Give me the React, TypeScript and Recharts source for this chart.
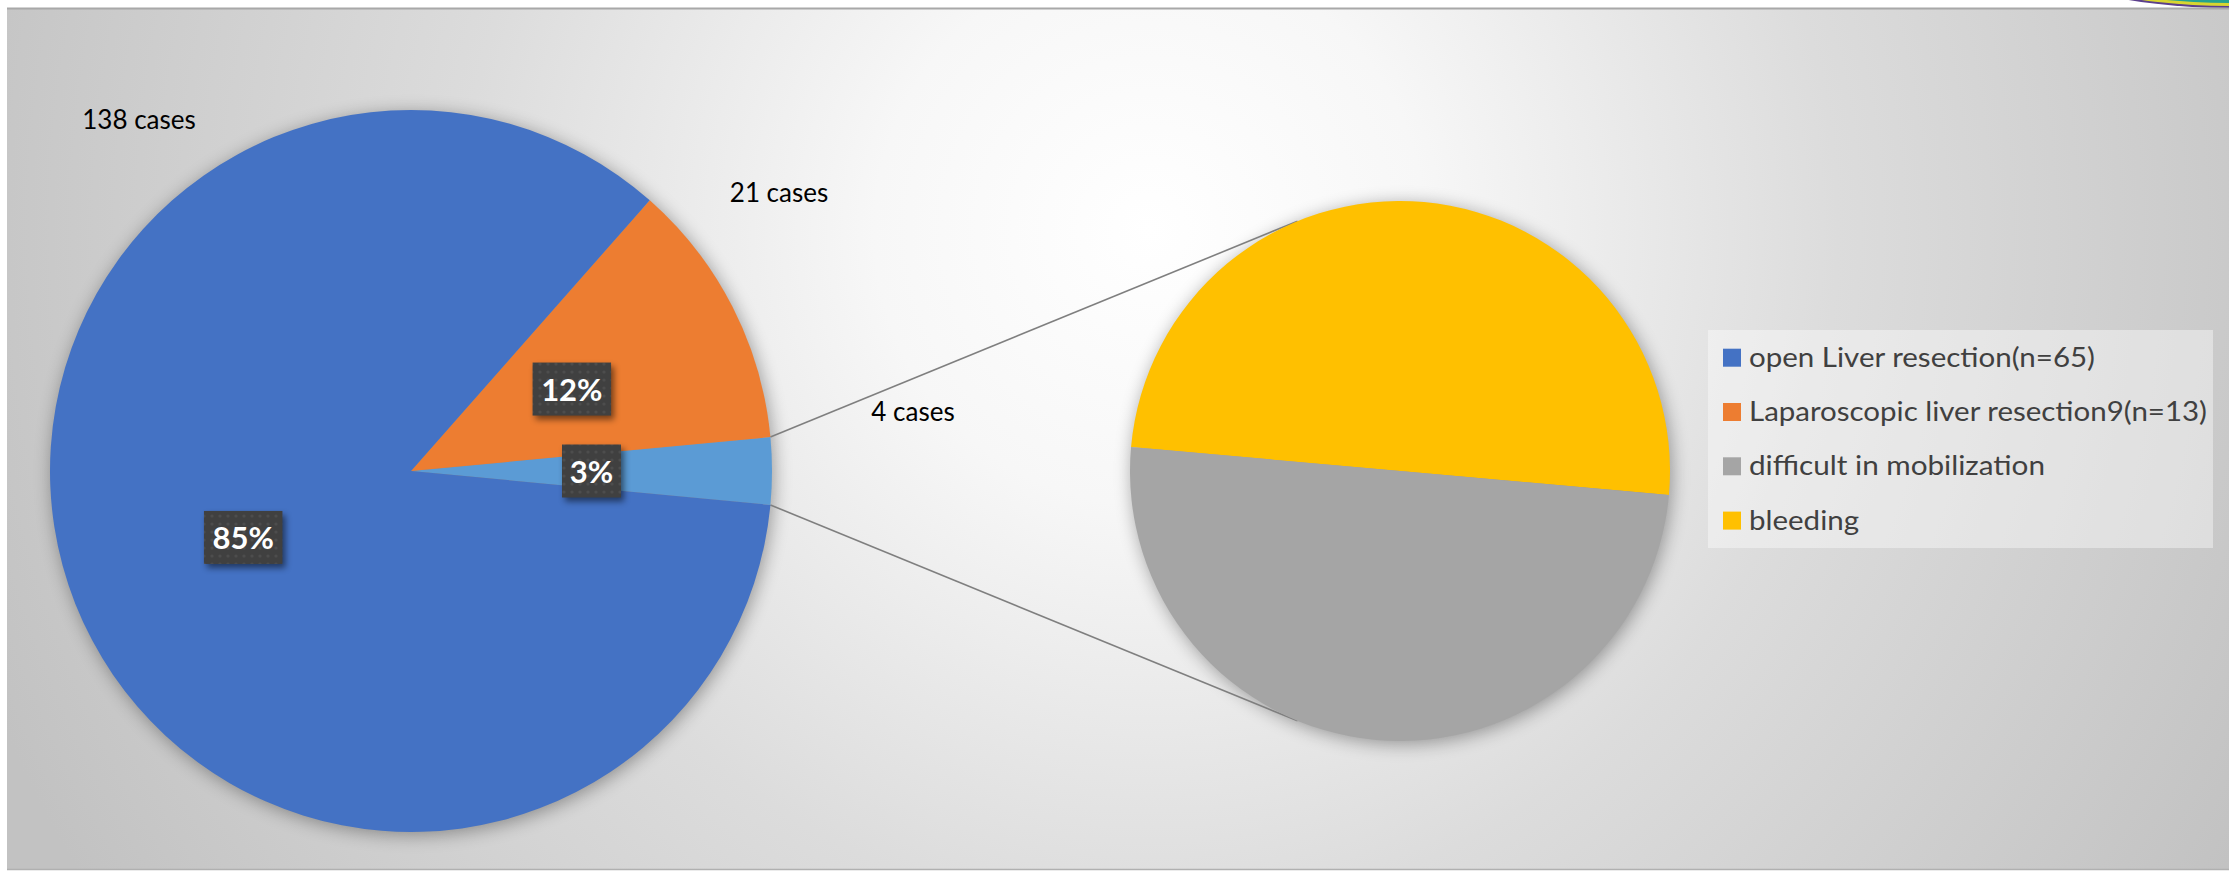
import React from 'react';
import { PieChart, Pie, Cell, Legend } from 'recharts';

// ---- data ----
const mainCategories = ['other (see right pie)', 'Laparoscopic liver resection', 'open Liver resection'];
const mainPercents = [3, 12, 85];
const mainCaseCounts = [4, 21, 138];
const mainColors = ['#5B9BD5', '#ED7D31', '#4472C4'];

const secondCategories = ['bleeding', 'difficult in mobilization'];
const secondValues = [2, 2];
const secondColors = ['#FFC000', '#A5A5A5'];

const legendLabels = [
  'open Liver resection(n=65)',
  'Laparoscopic liver resection9(n=13)',
  'difficult in mobilization',
  'bleeding',
];
const legendColors = ['#4472C4', '#ED7D31', '#A5A5A5', '#FFC000'];

// ---- layout ----
const W = 2229;
const H = 872;
const MAIN_CX = 411;
const MAIN_CY = 471;
const MAIN_R = 361;
const SEC_CX = 1400;
const SEC_CY = 471;
const SEC_R = 270;
const SEC_START = -5.1;
const CONNECT_ANGLE = 112.3;
const caseLabelOffsets: [number, number][] = [
  [502, -50],
  [368, -269],
  [-272, -342],
];
const legendTextWidths = [346, 458, 296, 110];

const mainData = mainCategories.map((name, i) => ({ name, value: mainPercents[i] }));
const secondData = secondCategories.map((name, i) => ({ name, value: secondValues[i] }));
const mainTotal = mainPercents.reduce((a, b) => a + b, 0);
const mainStart = -((mainPercents[0] / mainTotal) * 360) / 2;

const RAD = Math.PI / 180;

const renderMainLabel = (props: any) => {
  const { cx, cy, midAngle, outerRadius, index } = props;
  const r = outerRadius * 0.5;
  const x = cx + r * Math.cos(-midAngle * RAD);
  const y = cy + r * Math.sin(-midAngle * RAD);
  const txt = `${mainPercents[index]}%`;
  const w = 20 + txt.length * 19.5;
  const h = 53;
  const [odx, ody] = caseLabelOffsets[index];
  return (
    <g key={`lbl-${index}`}>
      <rect x={x - w / 2 + 3} y={y - h / 2 + 4} width={w} height={h} fill="#000" opacity={0.5} filter="url(#lblShadow)" />
      <rect x={x - w / 2} y={y - h / 2} width={w} height={h} fill="url(#dotPattern)" />
      <text x={x} y={y + 12} textAnchor="middle" fill="#ffffff" fontFamily="Lato" fontWeight={700} fontSize={31}>
        {txt}
      </text>
      <text x={cx + odx} y={cy + ody} textAnchor="middle" fill="#000000" fontFamily="Lato" fontSize={26}>
        {`${mainCaseCounts[index]} cases`}
      </text>
    </g>
  );
};

const LegendBox = () => (
  <svg width={505} height={218} style={{ display: 'block' }}>
    <rect x={0} y={0} width={505} height={218} fill="#ffffff" fillOpacity={0.4} />
    {legendLabels.map((label, i) => (
      <g key={label}>
        <rect x={15} y={18.7 + i * 54.3} width={18} height={18} fill={legendColors[i]} />
        <text
          x={41}
          y={36.7 + i * 54.3}
          fontFamily="Lato"
          fontSize={26}
          fill="#404040"
          textLength={legendTextWidths[i]}
          lengthAdjust="spacingAndGlyphs"
        >
          {label}
        </text>
      </g>
    ))}
  </svg>
);

const pt = (cx: number, cy: number, r: number, a: number) => [cx + r * Math.cos(-a * RAD), cy + r * Math.sin(-a * RAD)];

export default function App() {
  const halfMain = -mainStart;
  const [m1x, m1y] = pt(MAIN_CX, MAIN_CY, MAIN_R, halfMain);
  const [m2x, m2y] = pt(MAIN_CX, MAIN_CY, MAIN_R, -halfMain);
  const [s1x, s1y] = pt(SEC_CX, SEC_CY, SEC_R, CONNECT_ANGLE);
  const [s2x, s2y] = pt(SEC_CX, SEC_CY, SEC_R, 360 - CONNECT_ANGLE);
  return (
    <div style={{ position: 'absolute', left: 0, top: 0, width: W, height: H, overflow: 'hidden', background: '#fff' }}>
      <svg width={W} height={H} style={{ position: 'absolute', left: 0, top: 0 }}>
        <defs>
          <radialGradient id="bgGrad" gradientUnits="userSpaceOnUse" cx={1150} cy={230} r={1250}>
            <stop offset="0" stopColor="#ffffff" />
            <stop offset="0.22" stopColor="#f7f7f7" />
            <stop offset="0.55" stopColor="#dcdcdc" />
            <stop offset="1" stopColor="#c2c2c2" />
          </radialGradient>
          <pattern id="dotPattern" width={8} height={8} patternUnits="userSpaceOnUse">
            <rect width={8} height={8} fill="#404040" />
            <circle cx={4} cy={4} r={1.6} fill="#4d4d4d" />
          </pattern>
          <filter id="lblShadow" x="-30%" y="-30%" width="160%" height="160%">
            <feGaussianBlur stdDeviation={3} />
          </filter>
          <filter id="pieShadow" x="-20%" y="-20%" width="140%" height="140%">
            <feGaussianBlur stdDeviation={9} />
          </filter>
        </defs>
        <ellipse cx={2232} cy={-50} rx={204} ry={58} fill="#5b3f8c" />
        <ellipse cx={2232} cy={-50} rx={201} ry={56} fill="#d8d530" />
        <ellipse cx={2232} cy={-50} rx={197} ry={53} fill="#23a38f" />
        <rect x={7} y={8} width={W} height={862} fill="url(#bgGrad)" />
        <line x1={7} y1={8.5} x2={W} y2={8.5} stroke="#a8a8a8" strokeWidth={2} />
        <line x1={7} y1={869.5} x2={W} y2={869.5} stroke="#b0b0b0" strokeWidth={1.5} />
        <circle cx={MAIN_CX + 2} cy={MAIN_CY + 3} r={MAIN_R} fill="#000" opacity={0.35} filter="url(#pieShadow)" />
        <circle cx={SEC_CX + 2} cy={SEC_CY + 3} r={SEC_R} fill="#000" opacity={0.35} filter="url(#pieShadow)" />
        <line x1={m1x} y1={m1y} x2={s1x} y2={s1y} stroke="#7f7f7f" strokeWidth={1.6} />
        <line x1={m2x} y1={m2y} x2={s2x} y2={s2y} stroke="#7f7f7f" strokeWidth={1.6} />
      </svg>
      <div style={{ position: 'absolute', left: 0, top: 0 }}>
        <PieChart width={W} height={H} margin={{ top: 0, right: 0, bottom: 0, left: 0 }}>
          <Pie
            data={mainData}
            dataKey="value"
            nameKey="name"
            cx={MAIN_CX}
            cy={MAIN_CY}
            outerRadius={MAIN_R}
            startAngle={mainStart}
            endAngle={mainStart + 360}
            stroke="none"
            label={renderMainLabel}
            labelLine={false}
            isAnimationActive={false}
          >
            {mainData.map((d, i) => (
              <Cell key={d.name} fill={mainColors[i]} />
            ))}
          </Pie>
          <Pie
            data={secondData}
            dataKey="value"
            nameKey="name"
            cx={SEC_CX}
            cy={SEC_CY}
            outerRadius={SEC_R}
            startAngle={SEC_START}
            endAngle={SEC_START + 360}
            stroke="none"
            isAnimationActive={false}
          >
            {secondData.map((d, i) => (
              <Cell key={d.name} fill={secondColors[i]} />
            ))}
          </Pie>
          <Legend
            content={() => <LegendBox />}
            wrapperStyle={{ position: 'absolute', left: 1708, top: 330, width: 505, height: 218, bottom: 'auto' }}
          />
        </PieChart>
      </div>
    </div>
  );
}
